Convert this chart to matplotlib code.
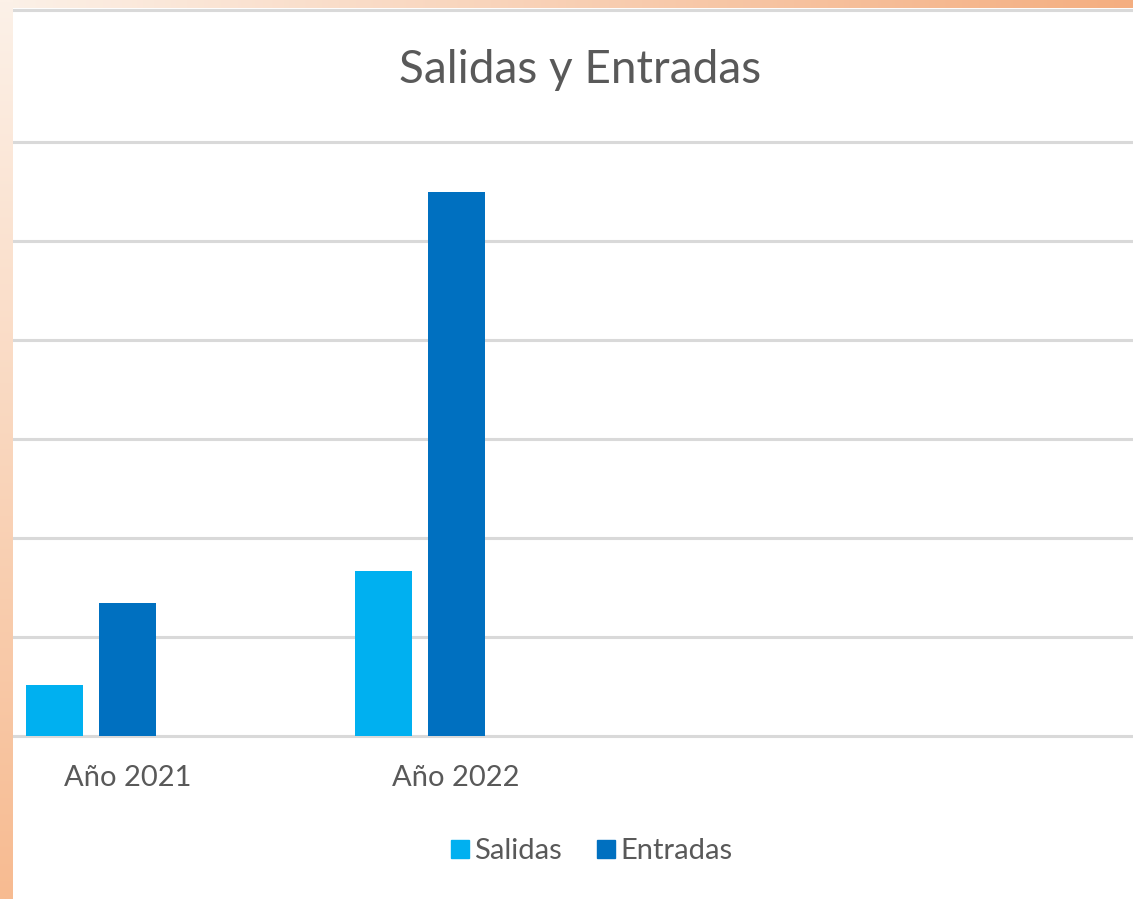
import numpy as np
import matplotlib.pyplot as plt
from matplotlib.lines import Line2D

# Data
categories = ["Año 2021", "Año 2022"]
salidas = [52, 167]
entradas = [134, 550]
series_names = ["Salidas", "Entradas"]
series_colors = ["#00B0F0", "#0070C0"]
y_ticks = [0, 100, 200, 300, 400, 500, 600]

W, H = 1133, 899
GRID = "#D9D9D9"
TEXT = "#595959"


def fx(px):
    return px / W


def fy(px):
    return 1 - px / H


def gradient_strip(fig, rect, c0, c1, vertical):
    """Draws a small colour gradient strip as an image axes."""
    ax = fig.add_axes(rect, zorder=5)
    t = np.linspace(0, 1, 256)
    c0 = np.array(plt.matplotlib.colors.to_rgb(c0))
    c1 = np.array(plt.matplotlib.colors.to_rgb(c1))
    img = c0[None, :] * (1 - t[:, None]) + c1[None, :] * t[:, None]
    if vertical:
        img = img[:, None, :]
    else:
        img = img[None, :, :]
    ax.imshow(img, aspect="auto", interpolation="bilinear")
    ax.set_axis_off()


def plot():
    plt.rcParams["font.family"] = ["Lato", "DejaVu Sans"]
    fig = plt.figure(figsize=(W / 100, H / 100), dpi=100)
    fig.patch.set_facecolor("white")

    # plot area: value 0 at y=736px, 100 units = 99px; category spacing 328.5px
    base_px, unit_px = 736, 0.99
    top_px = base_px - 640 * unit_px
    left_px, right_px = 13, W
    c0_px, cat_px = 127.5, 328.5
    ax = fig.add_axes([fx(left_px), fy(base_px), fx(right_px - left_px),
                       (base_px - top_px) / H])
    ax.set_xlim((left_px - c0_px) / cat_px, (right_px - c0_px) / cat_px)
    ax.set_ylim(0, 640)
    ax.set_axis_off()

    for v in y_ticks:
        ax.axhline(v, color=GRID, lw=2.2, zorder=0, clip_on=False)

    x = np.arange(len(categories))
    bar_w = 57 / cat_px
    step = 73 / cat_px
    # Excel layout has three slots per category, third one empty
    offsets = [-step, 0]
    for vals, name, col, off in zip([salidas, entradas], series_names,
                                    series_colors, offsets):
        ax.bar(x + off, vals, width=bar_w, color=col, label=name, zorder=2)

    for xi, lab in zip(x, categories):
        ax.text(xi, -42 / unit_px, lab, ha="center", va="center",
                fontsize=21, color=TEXT)

    fig.text(fx(580), fy(70), "Salidas y Entradas", ha="center", va="center",
             fontsize=33, color=TEXT)

    handles = [Line2D([], [], marker="s", linestyle="none", markersize=13,
                      color=c) for c in series_colors]
    fig.legend(handles, series_names, loc="center",
               bbox_to_anchor=(fx(589), fy(851)), ncol=2, frameon=False,
               fontsize=21, labelcolor=TEXT, handletextpad=0.0,
               columnspacing=1.0, handlelength=1.0)

    # chart frame line and the orange slide background around it
    fig.add_artist(Line2D([fx(13), 1], [fy(9.5), fy(9.5)], color=GRID,
                          lw=2.2, zorder=4))
    gradient_strip(fig, [0, fy(8), 1, 8 / H], "#FCF1E8", "#F4AE80", False)
    gradient_strip(fig, [0, 0, fx(13), 1], "#FCF1E8", "#F7BB91", True)

    plt.savefig("out.png", dpi=100)


if __name__ == "__main__":
    plot()
